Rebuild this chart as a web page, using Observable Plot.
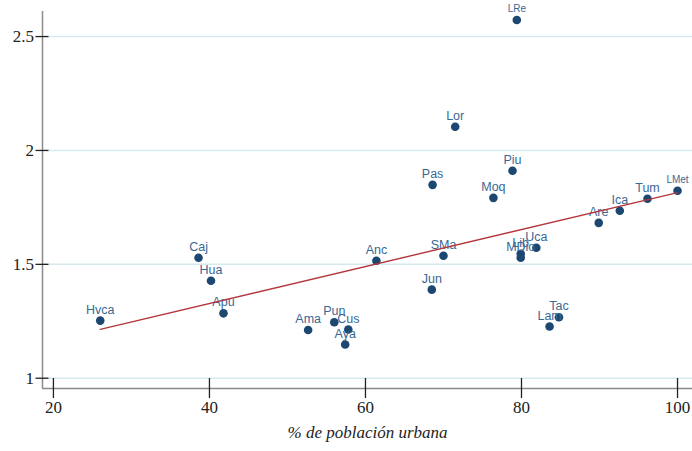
<!DOCTYPE html>
<html>
<head>
<meta charset="utf-8">
<script src="https://cdn.jsdelivr.net/npm/d3@7"></script>
<script src="https://cdn.jsdelivr.net/npm/@observablehq/plot@0.6"></script>
<style>
  html, body { margin: 0; padding: 0; background: #ffffff; }
  #chart svg { display: block; }
</style>
</head>
<body>
<div id="chart"></div>
<script>
// Regions (labels), % urban population (x), and y values
const regions = ["LRe","Lor","Piu","Pas","Moq","LMet","Tum","Ica","Are","Uca","Lib","MDio","SMa","Anc","Jun","Caj","Hua","Apu","Hvca","Ama","Pun","Cus","Aya","Tac","Lam"];
const urban   = [79.4, 71.5, 78.85, 68.6, 76.4, 100, 96.15, 92.6, 89.9, 81.9, 79.9, 79.9, 70.0, 61.4, 68.5, 38.6, 40.2, 41.8, 26.0, 52.65, 56.0, 57.8, 57.4, 84.8, 83.6];
const values  = [2.573, 2.104, 1.911, 1.849, 1.792, 1.823, 1.788, 1.735, 1.682, 1.573, 1.546, 1.529, 1.538, 1.516, 1.389, 1.529, 1.428, 1.285, 1.253, 1.212, 1.246, 1.214, 1.148, 1.268, 1.227];
const xTicks = [20, 40, 60, 80, 100];
const yTicks = [1, 1.5, 2, 2.5];
const xTitle = "% de población urbana";

const data = regions.map((r, i) => ({region: r, x: urban[i], y: values[i]}));

const xDomain = [18.6, 101.92];
const yDomain = [0.955, 2.61];
const serif = "'Liberation Serif', 'DejaVu Serif', serif";

const chart = Plot.plot({
  width: 692,
  height: 451,
  marginLeft: 42,
  marginRight: 0,
  marginTop: 11,
  marginBottom: 63,
  style: {fontSize: "17px", color: "#222", background: "#ffffff"},
  x: {domain: xDomain},
  y: {domain: yDomain},
  marks: [
    Plot.ruleY(yTicks, {stroke: "#d5eaed", strokeWidth: 1.5}),
    Plot.ruleX([xDomain[0]], {stroke: "#8a8a8a", strokeWidth: 1.5}),
    Plot.ruleY([yDomain[0]], {stroke: "#8a8a8a", strokeWidth: 1.5}),
    Plot.axisX({ticks: xTicks, tickSize: 20, dy: -10, tickPadding: 2, label: null, stroke: "#222", strokeWidth: 1.3, fontSize: 17, tickFormat: d => String(d)}),
    Plot.axisY({ticks: yTicks, tickSize: 13, dx: 6.5, tickPadding: 2, label: null, stroke: "#222", strokeWidth: 1.3, fontSize: 17, tickFormat: d => String(d)}),
    Plot.dot(data, {x: "x", y: "y", r: 4.3, fill: "#1b4771", stroke: "none"}),
    Plot.text(data, {
      x: "x", y: "y", text: "region", dy: -11,
      fill: "#3a6894",
      fontFamily: "Liberation Sans, Arial, sans-serif",
      fontSize: d => (d.region === "LRe" || d.region === "LMet") ? 10 : 12.5
    }),
    Plot.linearRegressionY(data, {x: "x", y: "y", stroke: "#b3363b", strokeWidth: 1.4, ci: 0}),
    Plot.text([xTitle], {frameAnchor: "bottom", dy: 49, fontStyle: "italic", fontSize: 17, fill: "#222"})
  ]
});

// Serif face for the axis tick labels and the axis title
const svg = d3.select(chart);
svg.selectAll('g[aria-label="x-axis tick label"] text, g[aria-label="y-axis tick label"] text')
  .style("font-family", serif);
svg.selectAll("text").filter(function() { return d3.select(this).text() === xTitle; })
  .style("font-family", serif);

document.getElementById("chart").appendChild(chart);
</script>
</body>
</html>
